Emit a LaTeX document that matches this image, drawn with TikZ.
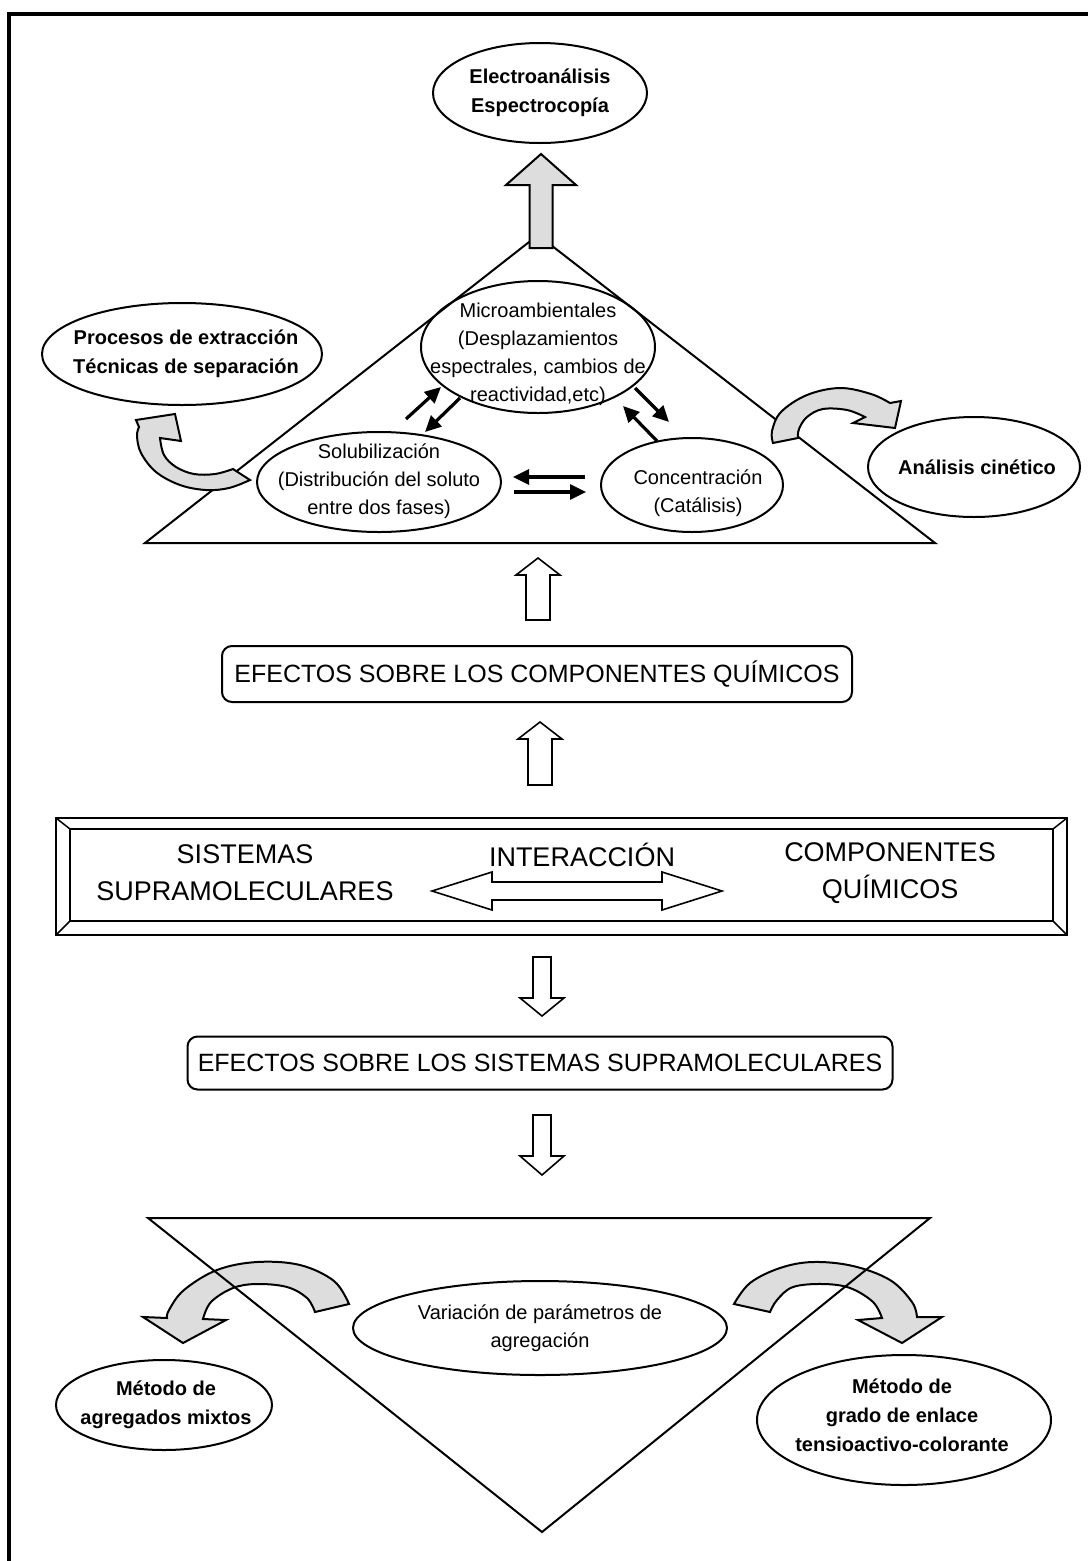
\documentclass[tikz,border=0pt]{standalone}
\usepackage{fontspec}
\setmainfont{Liberation Sans}
\usetikzlibrary{shapes.geometric,arrows.meta}
\definecolor{garr}{RGB}{221,221,221}
\newcommand\fsz[2]{\fontsize{#1}{#2}\selectfont}
\tikzset{
  ellnode/.style={draw, ellipse, line width=2pt, inner sep=0pt},
  txt/.style={align=center, inner sep=0pt, font=\fsz{20}{28}},
  btxt/.style={align=center, inner sep=0pt, font=\fsz{20}{29}\bfseries},
  bigtxt/.style={align=center, inner sep=0pt, font=\fsz{27}{37}},
  boxtxt/.style={draw, rounded corners=10pt, line width=2pt, inner sep=0pt, font=\fsz{25}{30}},
  tri/.style={line width=2pt, line join=miter},
  garrow/.style={draw, fill=garr, line width=2pt, line join=miter},
  warrow/.style={draw, fill=white, line width=1.6pt, line join=miter},
  sarr/.style={line width=3.2pt, -{Triangle[length=16pt,width=15pt]}},
}
\begin{document}
\begin{tikzpicture}[x=1pt,y=-1pt]
\useasboundingbox (0,0) rectangle (1088,1561);
\fill[white] (0,0) rectangle (1088,1561);
% frame
\draw[line width=4pt] (9,1561) -- (9,14) -- (1088,14);

% ---------- top part ----------
\node[ellnode, minimum width=214pt, minimum height=100pt] (elec) at (540,93) {};
\node[btxt] (elecT) at (540,93) {Electroanálisis\\Espectrocopía};

\draw[tri] (145,543) -- (538,235) -- (935,543) -- cycle;

\draw[garrow] (529.5,248) -- (529.5,185) -- (506,185) -- (541,154) -- (576,185) -- (552.5,185) -- (552.5,248) -- cycle;

\node[ellnode, minimum width=234pt, minimum height=132pt] (micro) at (538,347) {};
\node[txt] (microT) at (538,354) {Microambientales\\(Desplazamientos\\espectrales, cambios de\\reactividad,etc)};

\node[ellnode, minimum width=244pt, minimum height=100pt] (solu) at (379,482) {};
\node[txt] (soluT) at (379,481) {Solubilización\\(Distribución del soluto\\entre dos fases)};

\node[ellnode, minimum width=182pt, minimum height=94pt] (conc) at (692,485) {};
\node[txt] (concT) at (698,493) {Concentración\\(Catálisis)};

\node[ellnode, minimum width=280pt, minimum height=102pt] (proc) at (182,354) {};
\node[btxt] (procT) at (186,354) {Procesos de extracción\\Técnicas de separación};

\node[ellnode, minimum width=212pt, minimum height=100pt] (anal) at (974,467) {};
\node[btxt] (analT) at (977,467) {Análisis cinético};

% small black arrows
\coordinate (s1a) at (406,419); \coordinate (s1b) at (441,387);
\coordinate (s2a) at (460,398); \coordinate (s2b) at (425,432);
\coordinate (s3a) at (635,388); \coordinate (s3b) at (669,422);
\coordinate (s4a) at (657,441); \coordinate (s4b) at (623,406);
\coordinate (s5a) at (585,477); \coordinate (s5b) at (513,477);
\coordinate (s6a) at (514,492); \coordinate (s6b) at (586,492);
\draw[sarr] (s1a) -- (s1b);
\draw[sarr] (s2a) -- (s2b);
\draw[sarr] (s3a) -- (s3b);
\draw[sarr] (s4a) -- (s4b);
\draw[sarr] (s5a) -- (s5b);
\draw[sarr] (s6a) -- (s6b);

% curved gray arrows (top)
\draw[garrow] (175,414) -- (181,441) -- (160,438)
  -- plot[smooth, tension=0.6] coordinates {(160,438) (164,455) (176,467) (194,474) (215,474) (233,469)}
  -- (250,480)
  -- plot[smooth, tension=0.6] coordinates {(250,480) (229,488) (206,490) (180,485) (156,472) (141,453) (137,436) (139,427)}
  -- (136,420) -- cycle;

\draw[garrow] (773,443)
  -- plot[smooth, tension=0.6] coordinates {(773,443) (772,431) (781,412) (807,395) (840,388) (871,394) (890,403)}
  -- (901,401) -- (895,428) -- (853,423) -- (865,417)
  -- plot[smooth, tension=0.6] coordinates {(865,417) (847,410) (823,409) (807,417) (799,429) (798,438)}
  -- cycle;

% ---------- middle part ----------
\draw[warrow] (526,620) -- (526,575) -- (516,575) -- (538,558) -- (560,575) -- (550,575) -- (550,620) -- cycle;

\node[boxtxt, minimum width=630pt, minimum height=56pt] (efc) at (537,674) {EFECTOS SOBRE LOS COMPONENTES QUÍMICOS};

\draw[warrow] (528,785) -- (528,739) -- (518,739) -- (540,722) -- (562,739) -- (552,739) -- (552,785) -- cycle;

% bevel box
\coordinate (bo1) at (56,818); \coordinate (bo2) at (1067,818);
\coordinate (bo3) at (1067,935); \coordinate (bo4) at (56,935);
\coordinate (bi1) at (70,829); \coordinate (bi2) at (1053,829);
\coordinate (bi3) at (1053,921); \coordinate (bi4) at (70,921);
\draw[line width=2.2pt, line join=miter] (bo1) -- (bo2) -- (bo3) -- (bo4) -- cycle;
\draw[line width=1.5pt] (bi1) -- (bi2) -- (bi3) -- (bi4) -- cycle;
\draw[line width=1.5pt] (bo1) -- (bi1) (bo2) -- (bi2) (bo3) -- (bi3) (bo4) -- (bi4);

\node[bigtxt] (sist) at (245,873) {SISTEMAS\\SUPRAMOLECULARES};
\node[bigtxt] (inter) at (582,855) {INTERACCIÓN};
\node[bigtxt] (comp) at (890,873) {COMPONENTES\\QUÍMICOS};
\draw[warrow] (432,891) -- (492,872) -- (492,882) -- (662,882) -- (662,872) -- (722,891)
  -- (662,910) -- (662,900) -- (492,900) -- (492,910) -- cycle;

\draw[warrow] (533,957) -- (533,998) -- (520,998) -- (542,1016) -- (564,998) -- (551,998) -- (551,957) -- cycle;

\node[boxtxt, minimum width=705pt, minimum height=53pt] (efs) at (540,1063) {EFECTOS SOBRE LOS SISTEMAS SUPRAMOLECULARES};

\draw[warrow] (533,1115) -- (533,1156) -- (520,1156) -- (542,1175) -- (564,1156) -- (551,1156) -- (551,1115) -- cycle;

% ---------- bottom part ----------
\draw[garrow] (349,1304)
  -- plot[smooth, tension=0.6] coordinates {(349,1304) (334,1281) (300,1265) (257,1262) (217,1270) (184,1290) (169,1310) (167,1318)}
  -- (143,1317) -- (183,1343) -- (226,1320) -- (203,1319)
  -- plot[smooth, tension=0.6] coordinates {(203,1319) (211,1302) (233,1288) (257,1284) (287,1287) (307,1298) (315,1312)}
  -- cycle;

\draw[garrow] (734,1304)
  -- plot[smooth, tension=0.6] coordinates {(734,1304) (750,1283) (780,1268) (813,1262) (853,1266) (890,1280) (912,1302) (917,1317)}
  -- (942,1317) -- (902,1343) -- (858,1320) -- (882,1318)
  -- plot[smooth, tension=0.6] coordinates {(882,1318) (873,1302) (850,1288) (823,1284) (793,1287) (777,1300) (770,1312)}
  -- cycle;

\draw[tri] (148,1218) -- (930,1218) -- (542,1532) -- cycle;

\node[ellnode, fill=white, minimum width=374pt, minimum height=94pt] (vari) at (540,1328) {};
\node[txt] (variT) at (540,1328) {Variación de parámetros de\\agregación};

\node[ellnode, minimum width=216pt, minimum height=90pt] (mix) at (164,1405) {};
\node[btxt] (mixT) at (166,1405) {Método de\\agregados mixtos};

\node[ellnode, minimum width=294pt, minimum height=130pt] (gra) at (904,1420) {};
\node[btxt] (graT) at (902,1415) {Método de\\grado de enlace\\tensioactivo-colorante};
\end{tikzpicture}
\end{document}
